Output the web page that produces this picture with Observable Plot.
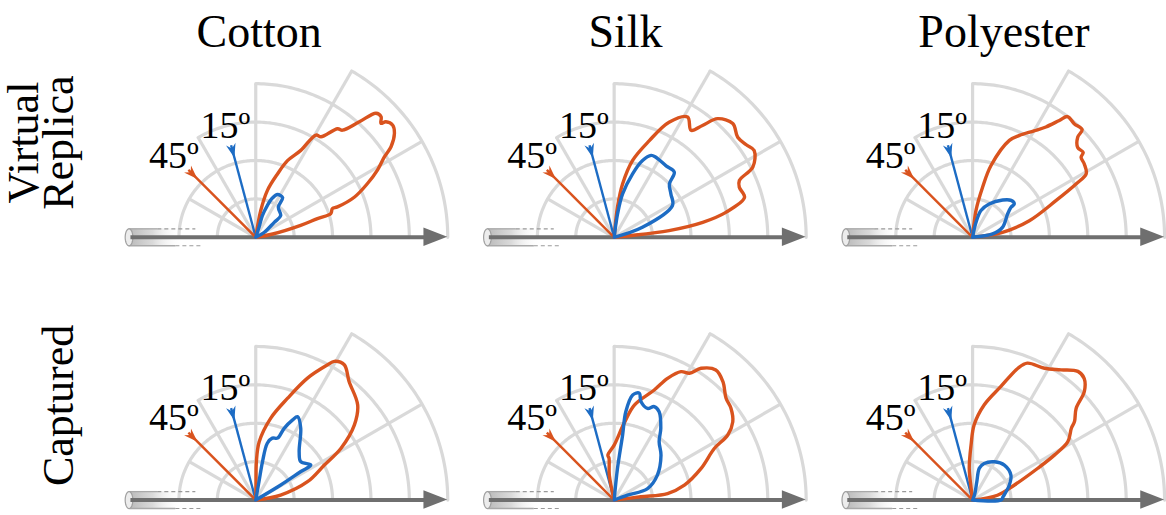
<!DOCTYPE html>
<html><head><meta charset="utf-8">
<script src="https://cdn.jsdelivr.net/npm/d3@7"></script>
<script src="https://cdn.jsdelivr.net/npm/@observablehq/plot@0.6"></script>
<style>body{margin:0;background:#fff;} svg text{font-family:"Liberation Serif","Times New Roman",Times,serif !important;}</style>
</head><body><div id="chart"></div>
<script>
// ---- categories / labels ----
const materials = ["Cotton", "Silk", "Polyester"];
const rows = ["Virtual Replica", "Captured"];
const rowLabels = ["Virtual\nReplica", "Captured"];
const incidence = [15, 45];            // incident angle from the normal, degrees
const incidenceLabels = ["15º", "45º"];
// ---- polar grid (ring radius / angular extent, spoke angle / length) ----
const ringRadii = [1, 2, 3, 4, 5];
const ringSpans = [180, 180, 120, 90, 60];
const spokeAngles = [30, 60, 90, 120, 150];
const spokeLengths = [5, 5, 4, 3, 2];

// ---- scattering lobes: [angle (deg from fibre axis), radius (ring units)] ----
const cottonReplica45 = [[8,0],[11,0.45],[14.9,1.21],[16.9,1.68],[17.5,2.05],[20.5,2.13],[20.4,2.27],[22.2,2.78],[25.7,3.23],[28.9,3.62],[32,3.95],[33.8,4.24],[36.8,4.51],[39.3,4.61],[41.6,4.53],[42.3,4.41],[43.9,4.53],[45.9,4.5],[48.1,4.04],[51,3.59],[53,3.54],[57,3.12],[59.5,3.09],[62.6,2.55],[67.5,2.16],[71,1.75],[76,1.26],[79.4,0.71],[82,0]];
const cottonReplica15 = [[28,0],[30,0.25],[39,0.62],[41,0.86],[53,0.98],[56,1.25],[63,1.25],[67,1.11],[70,0.88],[73,0.59],[72,0.27],[72,0]];
const silkReplica45 = [[5,0],[5.8,0.39],[7,1.44],[9.6,2.34],[12.6,2.98],[17,3.55],[21.8,3.51],[24.4,3.58],[26.9,4.05],[31.8,4.29],[35,4.2],[39,4.14],[43.8,4.28],[48.9,4.1],[51.7,3.71],[54.3,3.43],[58.6,3.67],[64.5,3.32],[70,2.68],[76.5,2.06],[81,1.41],[83.7,0.79],[85,0]];
const silkReplica15 = [[15,0],[19.4,0.78],[28.6,1.73],[37.4,1.86],[44,2.0],[47.3,2.31],[54,2.3],[62.5,2.35],[65.7,2.34],[69.7,2.13],[73.8,1.72],[79,1.15],[81.7,0.62],[83,0]];
const polyReplica45 = [[7,0],[9.5,0.79],[16.3,1.54],[23.8,2.38],[27.3,3.04],[29.2,3.39],[33.3,3.48],[36.4,3.51],[37.5,3.63],[40.5,3.6],[43.6,3.78],[44.5,4.0],[48.2,3.97],[51.8,4.0],[53.4,3.79],[56.4,3.45],[60,3.2],[65.3,2.92],[69.2,2.7],[75.6,1.93],[78.7,1.33],[82.8,0.7],[84,0]];
const polyReplica15 = [[5,0],[9.5,0.53],[18.4,0.82],[33.8,1.1],[38,1.27],[38.6,1.39],[43.8,1.39],[51,1.25],[63.6,0.97],[72.6,0.73],[77,0.4],[78,0]];
const cottonCaptured45 = [[8,0],[11.3,0.66],[19.5,1.43],[27,2.0],[31.3,2.6],[37.3,3.23],[43,3.63],[51.8,3.93],[56.8,4.21],[60.5,4.15],[62,3.99],[67,3.45],[72.6,2.78],[79.6,2.17],[86.6,1.52],[89,1.0],[89,0.4],[89,0]];
const cottonCaptured15 = [[28,0],[31,0.76],[32.3,1.39],[32.5,1.7],[40.5,1.54],[48,1.69],[58,2.21],[63.4,2.43],[65.3,2.3],[68.4,2.01],[70.6,1.71],[75,1.67],[78.5,1.51],[80,1.01],[80,0.49],[80,0]];
const silkCaptured45 = [[6,0],[7,0.7],[7,1.4],[12,1.87],[20,2.41],[27.3,2.94],[29.8,3.41],[33.4,3.7],[38.2,3.87],[42.3,3.94],[47.5,4.19],[52,4.3],[56.6,4.11],[59.3,3.84],[62.5,3.77],[66.3,3.46],[70,3.05],[78,2.53],[82.6,2.02],[90,1.43],[98,1.18],[97,1.1],[101,0.66],[102,0]];
const silkCaptured15 = [[18,0],[20,0.37],[19,0.92],[30,1.3],[43.8,1.69],[52.4,1.92],[57,2.23],[63,2.58],[66.8,2.65],[70,2.54],[74.8,2.66],[76.8,2.86],[80,2.78],[82.5,2.32],[82.6,1.71],[84,0.83],[84,0]];
const polyCaptured45 = [[8,0],[11,0.66],[19.8,1.16],[26,1.89],[28.8,2.43],[31.5,2.91],[36,3.18],[37.6,3.35],[41.5,3.6],[44.2,4.06],[47.5,4.3],[50.7,4.33],[55.8,4.1],[61.4,3.91],[68.2,3.84],[71,3.63],[76,3.05],[83,2.5],[88.8,1.96],[91.6,1.43],[96,0.83],[97,0.31],[97,0]];
const polyCaptured15 = [[0,0],[0,0.74],[6.3,0.8],[22,1.03],[33,1.19],[47.7,1.23],[60,1.15],[72.5,1.0],[78,0.85],[77,0.49],[70,0.16],[70,0]];

const lobeTable = [
  ["Cotton", rows[0], 45, cottonReplica45], ["Cotton", rows[0], 15, cottonReplica15],
  ["Silk", rows[0], 45, silkReplica45], ["Silk", rows[0], 15, silkReplica15],
  ["Polyester", rows[0], 45, polyReplica45], ["Polyester", rows[0], 15, polyReplica15],
  ["Cotton", rows[1], 45, cottonCaptured45], ["Cotton", rows[1], 15, cottonCaptured15],
  ["Silk", rows[1], 45, silkCaptured45], ["Silk", rows[1], 15, silkCaptured15],
  ["Polyester", rows[1], 45, polyCaptured45], ["Polyester", rows[1], 15, polyCaptured15]
];

// ---- styles ----
const ORANGE = "#d9531e", BLUE = "#1d6cc4", GRID = "#d9d9d9", AXIS = "#6f6f6f";
const colorOf = inc => inc === 45 ? ORANGE : BLUE;
const SERIF = "Liberation Serif, Times New Roman, serif";
const titleNudge = {Cotton: -12, Silk: -4, Polyester: 16};   // px
const rad = d => d * Math.PI / 180;

// ---- derived tables ----
const lobePts = lobeTable.flatMap(([material, row, inc, pts]) =>
  pts.map(([a, r], i) => ({material, row, inc, key: material + row + inc, i,
    x: r * Math.cos(rad(a)), y: r * Math.sin(rad(a))})));

const arcPts = ringRadii.flatMap((r, k) =>
  d3.range(0, ringSpans[k] + 0.001, 1).map(a => ({ring: k, x: r * Math.cos(rad(a)), y: r * Math.sin(rad(a))})));
const spokes = spokeAngles.map((a, k) => ({x2: spokeLengths[k] * Math.cos(rad(a)), y2: spokeLengths[k] * Math.sin(rad(a))}));

const incShaft = 2.48, incHead = 2.33, incText = 3.0;
const incData = incidence.map((t, k) => ({t, label: incidenceLabels[k],
  x2: incShaft * Math.cos(rad(90 + t)), y2: incShaft * Math.sin(rad(90 + t)),
  hx: incHead * Math.cos(rad(90 + t)), hy: incHead * Math.sin(rad(90 + t)),
  tx: incText * Math.cos(rad(90 + t)), ty: incText * Math.sin(rad(90 + t))}));

// ---- layout ----
const W = 1166, H = 515, mL = 117, mR = 0, mT = 64, mB = 2, K = 38.4;
const xDom = [-3.6, 5.05], yDom = [-0.35, 4.5];
const bwx = (xDom[1] - xDom[0]) * K, gapx = ((W - mL - mR) - 3 * bwx) / 2;
const bwy = (yDom[1] - yDom[0]) * K, gapy = ((H - mT - mB) - 2 * bwy);
const pix = gapx / (bwx + gapx), piy = gapy / (bwy + gapy);

// fibre cylinder geometry (in ring units)
const cylL = -3.3, cylR = 0.22;
const ellipse = d3.range(0, 361, 10).map(a => ({x: cylL + 0.1 * Math.cos(rad(a)), y: cylR * Math.sin(rad(a))}));

const barbed = {draw(ctx, size) {
  const s = Math.sqrt(size / Math.PI);
  ctx.moveTo(0, s); ctx.lineTo(-0.7 * s, -s); ctx.lineTo(0, -0.35 * s); ctx.lineTo(0.7 * s, -s); ctx.closePath();
}};

const chart = Plot.plot({
  width: W, height: H, marginLeft: mL, marginRight: mR, marginTop: mT, marginBottom: mB,
  style: {background: "white", overflow: "visible"},
  x: {domain: xDom, axis: null},
  y: {domain: yDom, axis: null},
  fx: {domain: materials, paddingInner: pix, paddingOuter: 0, round: false, axis: null},
  fy: {domain: rows, paddingInner: piy, paddingOuter: 0, round: false, axis: null},
  marks: [
    // grid
    Plot.line(arcPts, {x: "x", y: "y", z: "ring", stroke: GRID, strokeWidth: 3.2}),
    Plot.link(spokes, {x1: 0, y1: 0, x2: "x2", y2: "y2", stroke: GRID, strokeWidth: 3.2}),
    // fibre cylinder
    Plot.rect([0], {x1: cylL, x2: -1.9, y1: -cylR, y2: cylR, fill: "#cfcfcf", className: "cyl-body"}),
    Plot.ruleY([cylR], {x1: cylL, x2: -2.55, stroke: "#a9a9a9", strokeWidth: 1.3}),
    Plot.ruleY([cylR], {x1: -2.55, x2: -1.56, stroke: "#9a9a9a", strokeWidth: 1.2, strokeDasharray: "4,3"}),
    Plot.ruleY([-cylR], {x1: cylL, x2: -2.08, stroke: "#a9a9a9", strokeWidth: 1.3}),
    Plot.ruleY([-cylR], {x1: -2.08, x2: -1.38, stroke: "#9a9a9a", strokeWidth: 1.2, strokeDasharray: "4,3"}),
    Plot.line(ellipse, {x: "x", y: "y", curve: "linear-closed", fill: "#ececec", stroke: "#a0a0a0", strokeWidth: 1.2}),
    // fibre axis arrow
    Plot.ruleY([0], {x1: cylL + 0.05, x2: 4.45, stroke: AXIS, strokeWidth: 4}),
    Plot.areaY([{x: 4.38, a: -0.24, b: 0.24}, {x: 5.0, a: 0, b: 0}], {x: "x", y1: "a", y2: "b", fill: AXIS}),
    // incident directions
    Plot.link(incData, {x1: 0, y1: 0, x2: "x2", y2: "y2", stroke: d => colorOf(d.t), strokeWidth: 2.4}),
    Plot.dot(incData, {x: "hx", y: "hy", symbol: barbed, r: 7, rotate: d => -d.t, fill: d => colorOf(d.t), stroke: "none"}),
    Plot.text(incData, {x: "tx", y: "ty", text: "label", dx: d => d.t === 15 ? 7 : -3, dy: d => d.t === 15 ? 0 : 4,
      fontSize: 38, fontFamily: SERIF, fill: "black"}),
    // lobes
    Plot.line(lobePts, {x: "x", y: "y", z: "key", fx: "material", fy: "row", stroke: d => colorOf(d.inc),
      strokeWidth: 3.4, curve: "catmull-rom", strokeLinejoin: "round"}),
    // titles
    ...materials.map(m => Plot.text([m], {fx: d => d, fy: () => rows[0], x: 0.4, frameAnchor: "top", dx: titleNudge[m], dy: -32,
      text: d => d, fontSize: 46, fontFamily: SERIF, fill: "black", lineAnchor: "middle", textAnchor: "middle"})),
    Plot.text(rows, {fy: d => d, fx: () => materials[0], frameAnchor: "left", dx: -45, dy: -15, rotate: -90,
      text: (d, i) => rowLabels[i], textAnchor: "middle", lineAnchor: "bottom", lineHeight: 0.78,
      fontSize: 44, fontFamily: SERIF, fill: "black"})
  ]
});

// gradient for the fibre cylinder body
const svg = d3.select(chart);
const defs = svg.insert("defs", ":first-child");
const g = defs.append("linearGradient").attr("id", "cylGrad").attr("x1", "0").attr("x2", "1").attr("y1", "0").attr("y2", "0");
g.append("stop").attr("offset", "0%").attr("stop-color", "#b9b9b9").attr("stop-opacity", 1);
g.append("stop").attr("offset", "45%").attr("stop-color", "#d6d6d6").attr("stop-opacity", 0.9);
g.append("stop").attr("offset", "100%").attr("stop-color", "#ffffff").attr("stop-opacity", 0);
svg.selectAll(".cyl-body rect").attr("fill", "url(#cylGrad)");

document.getElementById("chart").appendChild(chart);
</script>
</body></html>
